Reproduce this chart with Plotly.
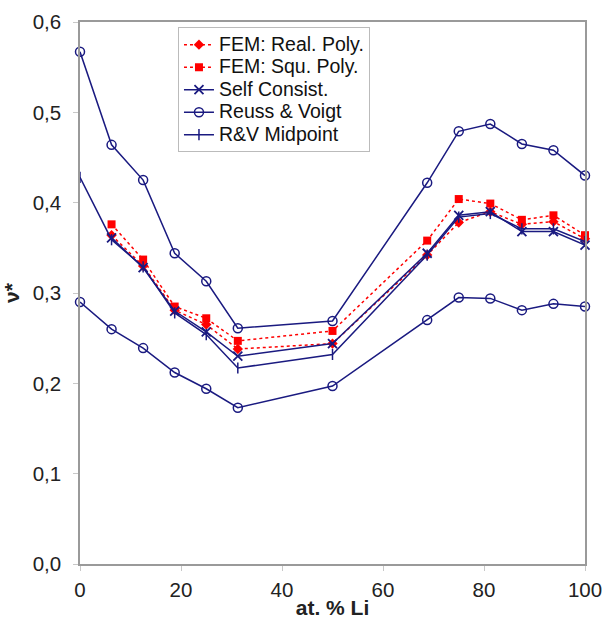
import plotly.graph_objects as go

x_all = [0, 6.25, 12.5, 18.75, 25, 31.25, 50, 68.75, 75, 81.25, 87.5, 93.75, 100]
x_fem = [6.25, 12.5, 18.75, 25, 31.25, 50, 68.75, 75, 81.25, 87.5, 93.75, 100]

fem_real = [0.364, 0.330, 0.281, 0.265, 0.238, 0.244, 0.342, 0.378, 0.390, 0.376, 0.379, 0.360]
fem_squ = [0.376, 0.337, 0.285, 0.272, 0.247, 0.258, 0.358, 0.404, 0.399, 0.381, 0.386, 0.364]
self_consist = [0.361, 0.328, 0.280, 0.257, 0.230, 0.244, 0.344, 0.386, 0.390, 0.368, 0.368, 0.353]
reuss_upper = [0.567, 0.464, 0.425, 0.344, 0.313, 0.261, 0.269, 0.422, 0.479, 0.487, 0.465, 0.458, 0.430]
reuss_lower = [0.290, 0.260, 0.239, 0.212, 0.194, 0.173, 0.197, 0.270, 0.295, 0.294, 0.281, 0.288, 0.285]
rv_mid = [0.428, 0.359, 0.329, 0.278, 0.254, 0.217, 0.232, 0.342, 0.384, 0.388, 0.371, 0.371, 0.357]

x_ticks = [0, 20, 40, 60, 80, 100]
y_ticks = [0, 0.1, 0.2, 0.3, 0.4, 0.5, 0.6]

RED = "#ff0000"
NAVY = "#1a1a80"
FONT = "Liberation Sans, Arial"


def lbl(t):
    return '<span style="font-size:19.5px">' + t + "</span>"


fig = go.Figure()
fig.add_trace(go.Scatter(x=x_fem, y=fem_real, name=lbl("FEM: Real. Poly."), mode="lines+markers",
                         line=dict(color=RED, width=1.5, dash="dot"),
                         marker=dict(symbol="diamond", size=8, color=RED), cliponaxis=False))
fig.add_trace(go.Scatter(x=x_fem, y=fem_squ, name=lbl("FEM: Squ. Poly."), mode="lines+markers",
                         line=dict(color=RED, width=1.5, dash="dot"),
                         marker=dict(symbol="square", size=8, color=RED), cliponaxis=False))
fig.add_trace(go.Scatter(x=x_fem, y=self_consist, name=lbl("Self Consist."), mode="lines+markers",
                         line=dict(color=NAVY, width=1.5),
                         marker=dict(symbol="x-thin", size=9, color=NAVY, line=dict(color=NAVY, width=1.8)),
                         cliponaxis=False))
fig.add_trace(go.Scatter(x=x_all, y=reuss_upper, name=lbl("Reuss &amp; Voigt"), mode="lines+markers",
                         legendgroup="rv",
                         line=dict(color=NAVY, width=1.5),
                         marker=dict(symbol="circle-open", size=9, color=NAVY, line=dict(color=NAVY, width=1.5)),
                         cliponaxis=False))
fig.add_trace(go.Scatter(x=x_all, y=reuss_lower, name="Reuss & Voigt", mode="lines+markers",
                         legendgroup="rv", showlegend=False,
                         line=dict(color=NAVY, width=1.5),
                         marker=dict(symbol="circle-open", size=9, color=NAVY, line=dict(color=NAVY, width=1.5)),
                         cliponaxis=False))
fig.add_trace(go.Scatter(x=x_all, y=rv_mid, name=lbl("R&amp;V Midpoint"), mode="lines+markers",
                         line=dict(color=NAVY, width=1.5),
                         marker=dict(symbol="line-ns", size=8, color=NAVY, line=dict(color=NAVY, width=1.5)),
                         cliponaxis=False))

axis_common = dict(showline=True, linecolor="#9a9a9a", linewidth=1.5, mirror=True,
                   showgrid=False, zeroline=False, ticks="outside", ticklen=5,
                   tickcolor="#c8c8c8", automargin=False,
                   tickfont=dict(family=FONT, size=20.5, color="#222"))

fig.update_layout(
    width=603, height=624,
    margin=dict(l=80, r=18, t=22, b=60),
    paper_bgcolor="white", plot_bgcolor="white",
    separators=", ",
    font=dict(family=FONT, size=17, color="#222"),
    xaxis=dict(range=[0, 100], tickvals=x_ticks, ticklabelstandoff=2,
               title=dict(text="<b>at. % Li</b>", font=dict(size=21), standoff=0), **axis_common),
    yaxis=dict(range=[0, 0.6], tickvals=y_ticks, tickformat=".1f", ticklabelstandoff=8,
               title=dict(text="<b>ν*</b>", font=dict(size=21), standoff=10), **axis_common),
    legend=dict(x=0.194, y=0.99, xanchor="left", yanchor="top",
                bordercolor="#bbbbbb", borderwidth=1, bgcolor="white",
                font=dict(size=15, color="#111"), tracegroupgap=0, itemwidth=30),
    showlegend=True,
)

fig.write_html("out.html")
